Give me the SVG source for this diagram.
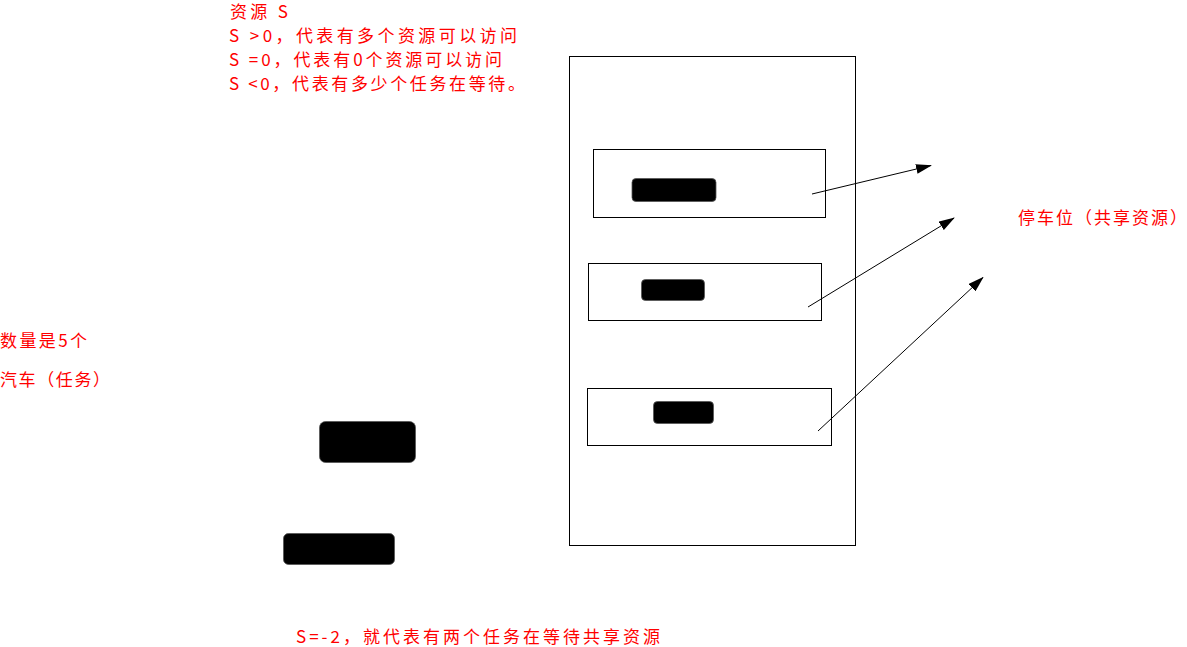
<svg xmlns="http://www.w3.org/2000/svg" width="1187" height="647" viewBox="0 0 1187 647">
<style>
.t{font-family:"Noto Sans CJK SC","Noto Sans",sans-serif;font-size:17px;fill:#ff0000}
.box{fill:#ffffff;stroke:#000000;stroke-width:1}
.blk{fill:#000000;stroke:#555555;stroke-width:0.8}
.con{stroke:#000000;stroke-width:1;fill:none;marker-end:url(#ah)}
</style>
<defs>
<marker id="ah" viewBox="0 0 16 10" refX="15" refY="5" markerWidth="16" markerHeight="10" markerUnits="userSpaceOnUse" orient="auto">
<path d="M0,0 L16,5 L0,10 z" fill="#000000"/>
</marker>
</defs>
<rect width="1187" height="647" fill="#ffffff"/>
<g id="legend">
<text class="t" x="230" y="18" textLength="58" lengthAdjust="spacing">资源 S</text>
<text class="t" x="229" y="41.5" textLength="288" lengthAdjust="spacing">S &gt;0，代表有多个资源可以访问</text>
<text class="t" x="229" y="65.5" textLength="273" lengthAdjust="spacing">S =0，代表有0个资源可以访问</text>
<text class="t" x="229" y="89.5" textLength="296" lengthAdjust="spacing">S &lt;0，代表有多少个任务在等待。</text>
</g>
<g id="count-label">
<text class="t" x="0" y="346.5" textLength="87" lengthAdjust="spacing">数量是5个</text>
</g>
<g id="car-label">
<text class="t" x="0" y="385.5" textLength="110" lengthAdjust="spacing">汽车（任务）</text>
</g>
<g id="parking-label">
<text class="t" x="1018" y="223.5" textLength="169" lengthAdjust="spacing">停车位（共享资源）</text>
</g>
<g id="bottom-label">
<text class="t" x="296" y="643" textLength="364" lengthAdjust="spacing">S=-2，就代表有两个任务在等待共享资源</text>
</g>
<g id="parking-lot">
<rect class="box" x="569.5" y="56.5" width="286" height="489"/>
</g>
<g id="slot1">
<rect class="box" x="593.5" y="149.5" width="232" height="68"/>
<rect class="blk" x="632" y="178.5" width="84" height="23" rx="4"/>
</g>
<g id="slot2">
<rect class="box" x="588.5" y="263.5" width="233" height="57"/>
<rect class="blk" x="641.5" y="279.5" width="63" height="21" rx="4"/>
</g>
<g id="slot3">
<rect class="box" x="587.5" y="388.5" width="244" height="57"/>
<rect class="blk" x="653.5" y="401.5" width="60" height="22" rx="4"/>
</g>
<g id="car1">
<rect class="blk" x="319.5" y="421.5" width="96" height="41" rx="6"/>
</g>
<g id="car2">
<rect class="blk" x="283.5" y="533.5" width="111" height="31" rx="5"/>
</g>
<g id="connectors">
<line class="con" x1="812" y1="194" x2="931" y2="165.5"/>
<line class="con" x1="808" y1="307" x2="954" y2="218"/>
<line class="con" x1="818" y1="431" x2="983" y2="277.5"/>
</g>
</svg>
